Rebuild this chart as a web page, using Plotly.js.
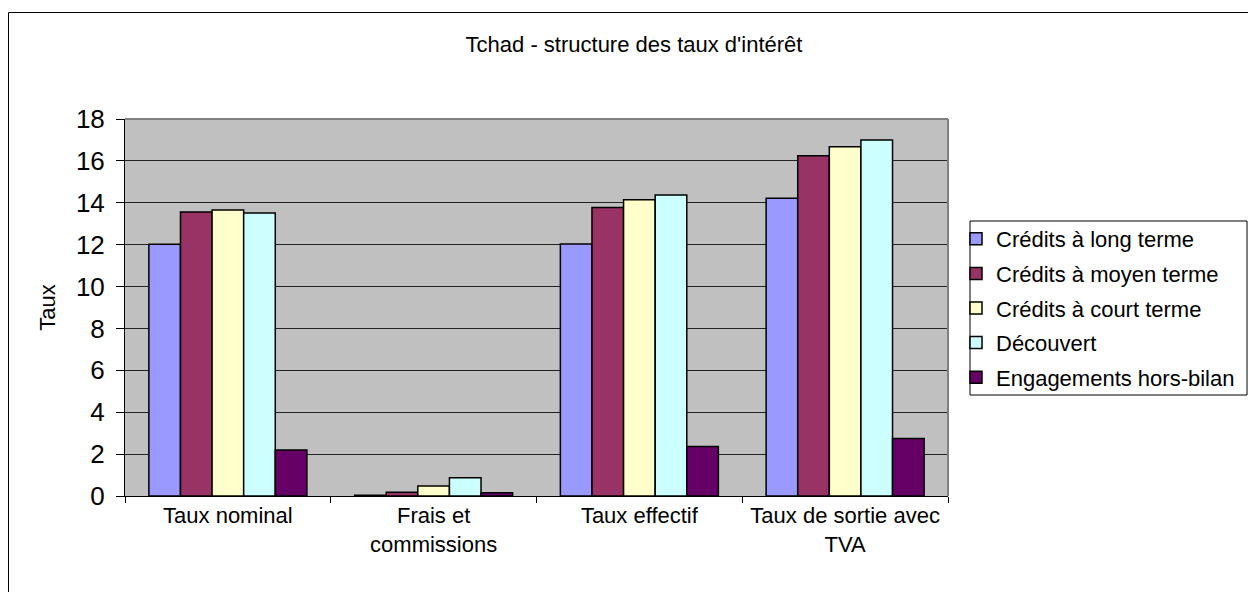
<!DOCTYPE html>
<html>
<head>
<meta charset="utf-8">
<script src="https://cdn.plot.ly/plotly-3.0.1.min.js"></script>
<style>html,body{margin:0;padding:0;background:#fff}#chart{width:1248px;height:592px}</style>
</head>
<body>
<div id="chart"></div>
<script>
const categories = ["Taux nominal", "Frais et<br>commissions", "Taux effectif", "Taux de sortie avec<br>TVA"];
const seriesNames = ["Crédits à long terme", "Crédits à moyen terme", "Crédits à court terme", "Découvert", "Engagements hors-bilan"];
const creditsLong = [12.02, 0.04, 12.03, 14.22];
const creditsMoyen = [13.56, 0.18, 13.77, 16.24];
const creditsCourt = [13.66, 0.48, 14.15, 16.68];
const decouvert = [13.51, 0.87, 14.37, 17.0];
const horsBilan = [2.2, 0.15, 2.36, 2.75];
const colors = ["#9999FF", "#993366", "#FFFFCC", "#CCFFFF", "#660066"];
const values = [creditsLong, creditsMoyen, creditsCourt, decouvert, horsBilan];

const FONT = "Liberation Sans, Arial, sans-serif";
const traces = values.map((v, i) => ({
  type: "bar",
  name: seriesNames[i],
  x: categories,
  y: v,
  legendgroup: "g" + i,
  marker: {color: colors[i], line: {color: "#000", width: 1.5}},
  hoverinfo: "skip"
}));

const L = 125, R = 300, T = 119, B = 96, W = 1248, H = 592;
const pw = W - L - R, ph = H - T - B;
const px = v => (v - L) / pw;
const py = v => (H - B - v) / ph;

const layout = {
  width: W, height: H,
  margin: {l: L, r: R, t: T, b: B, pad: 0, autoexpand: false},
  paper_bgcolor: "#fff",
  plot_bgcolor: "#C0C0C0",
  font: {family: FONT, color: "#000", size: 22},
  title: {text: "Tchad - structure des taux d'intérêt", font: {family: FONT, size: 22, color: "#000"},
          x: 634 / W, xanchor: "center", xref: "container", y: 1 - 44 / H, yref: "container", yanchor: "middle"},
  barmode: "group",
  bargap: 0.232,
  bargroupgap: 0,
  showlegend: true,
  legend: {x: px(956), xanchor: "left", y: py(308), yanchor: "middle", bgcolor: "rgba(0,0,0,0)",
           borderwidth: 0, font: {family: FONT, size: 22, color: "#000"},
           tracegroupgap: 3, traceorder: "grouped"},
  xaxis: {type: "category", tickson: "boundaries", ticks: "outside", ticklen: 6, tickcolor: "#000",
          showline: true, linecolor: "#000", linewidth: 1, showgrid: false,
          tickfont: {family: FONT, size: 22, color: "#000"}, fixedrange: true},
  yaxis: {range: [0, 18], dtick: 2, ticks: "outside", ticklen: 8, tickcolor: "#000",
          ticklabelstandoff: 6,
          showline: true, linecolor: "#000", linewidth: 1, showgrid: true, gridcolor: "#222", gridwidth: 1,
          zeroline: false, tickfont: {family: FONT, size: 26, color: "#000"},
          title: {text: "Taux", font: {family: FONT, size: 22, color: "#000"}, standoff: 14}, fixedrange: true},
  shapes: [
    {type: "line", xref: "paper", yref: "paper", x0: 0, x1: 1, y0: 1, y1: 1, line: {color: "#808080", width: 2}},
    {type: "line", xref: "paper", yref: "paper", x0: 1, x1: 1, y0: 0, y1: 1, line: {color: "#808080", width: 2}},
    {type: "rect", xref: "paper", yref: "paper", x0: px(970), x1: px(1247), y0: py(221), y1: py(395), line: {color: "#000", width: 1}, fillcolor: "rgba(0,0,0,0)"},
    {type: "line", xref: "paper", yref: "paper", x0: px(8.5), x1: px(8.5), y0: py(12.5), y1: py(700), line: {color: "#000", width: 1}},
    {type: "line", xref: "paper", yref: "paper", x0: px(8.5), x1: px(1400), y0: py(12.5), y1: py(12.5), line: {color: "#000", width: 1}}
  ]
};

Plotly.newPlot("chart", traces, layout, {displayModeBar: false, staticPlot: true});
</script>
</body>
</html>
